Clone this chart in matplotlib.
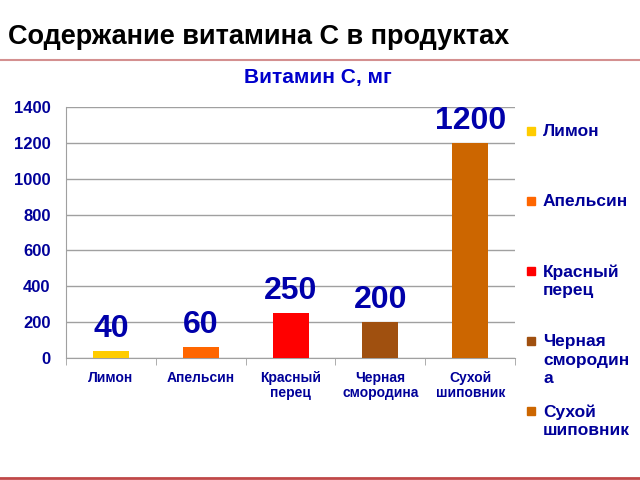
import matplotlib.pyplot as plt
from matplotlib.patches import Rectangle
from matplotlib.lines import Line2D

plt.rcParams['font.family'] = ['Liberation Sans', 'DejaVu Sans']

# Data
categories = ["Лимон", "Апельсин", "Красный\nперец", "Черная\nсмородина", "Сухой\nшиповник"]
legend_labels = ["Лимон", "Апельсин", "Красный\nперец", "Черная\nсмородин\nа", "Сухой\nшиповник"]
vitamin_c = [40, 60, 250, 200, 1200]
colors = ["#FFCC00", "#FF6600", "#FF0000", "#A0500F", "#CC6600"]

blue = "#000099"

fig = plt.figure(figsize=(6.4, 4.8), dpi=100)
ax = fig.add_axes([0.103, 0.254, 0.702, 0.523])

x = range(len(categories))
bars = ax.bar(x, vitamin_c, width=0.4, color=colors, zorder=3)

for b, v in zip(bars, vitamin_c):
    ax.annotate(str(v), (b.get_x() + b.get_width() / 2, v), xytext=(0, 5),
                textcoords="offset points", ha="center", va="bottom",
                fontsize=23, fontweight="bold", color="#0000AA")

ax.set_xlim(-0.5, len(categories) - 0.5)
ax.set_ylim(0, 1400)
ax.set_yticks(range(0, 1401, 200))
ax.yaxis.grid(True, color="#A0A0A0", linewidth=1, zorder=0)
ax.set_xticks(list(x))
ax.set_xticklabels(categories, fontsize=10, fontweight="bold", color=blue, linespacing=1.1)
ax.tick_params(axis="x", length=0, pad=9)
ax.set_xticks([i - 0.5 for i in range(len(categories) + 1)], minor=True)
ax.tick_params(axis="x", which="minor", length=5, color="#A0A0A0")
ax.tick_params(axis="y", length=0, pad=11, labelsize=12, labelcolor=blue)
for lbl in ax.get_yticklabels():
    lbl.set_fontweight("bold")

for s in ["top", "right"]:
    ax.spines[s].set_visible(False)
ax.spines["left"].set_color("#A0A0A0")
ax.spines["bottom"].set_color("#A0A0A0")

fig.text(318 / 640, 1 - 78 / 480, "Витамин С, мг", fontsize=15, fontweight="bold",
         color="#0000CC", ha="center", va="center")

# Legend
for i, (lab, c) in enumerate(zip(legend_labels, colors)):
    ytop = 1 - (124 + 70 * i) / 480
    fig.patches.append(Rectangle((527 / 640, ytop - 11 / 480), 8 / 640, 8 / 480,
                                 transform=fig.transFigure, color=c))
    fig.text(543 / 640, ytop, lab, fontsize=12.5, fontweight="bold", color=blue,
             va="top", ha="left", linespacing=1.3)

# Slide title and lines
fig.text(8 / 640, 1 - 37 / 480, "Содержание витамина С в продуктах",
         fontsize=19.5, fontweight="bold", color="black", va="center")
fig.add_artist(Line2D([0, 1], [1 - 60 / 480] * 2, color="#D49090", linewidth=1.5))
fig.add_artist(Line2D([0, 1], [1 - 478 / 480] * 2, color="#C04848", linewidth=2))

plt.savefig("out.png", dpi=100)
